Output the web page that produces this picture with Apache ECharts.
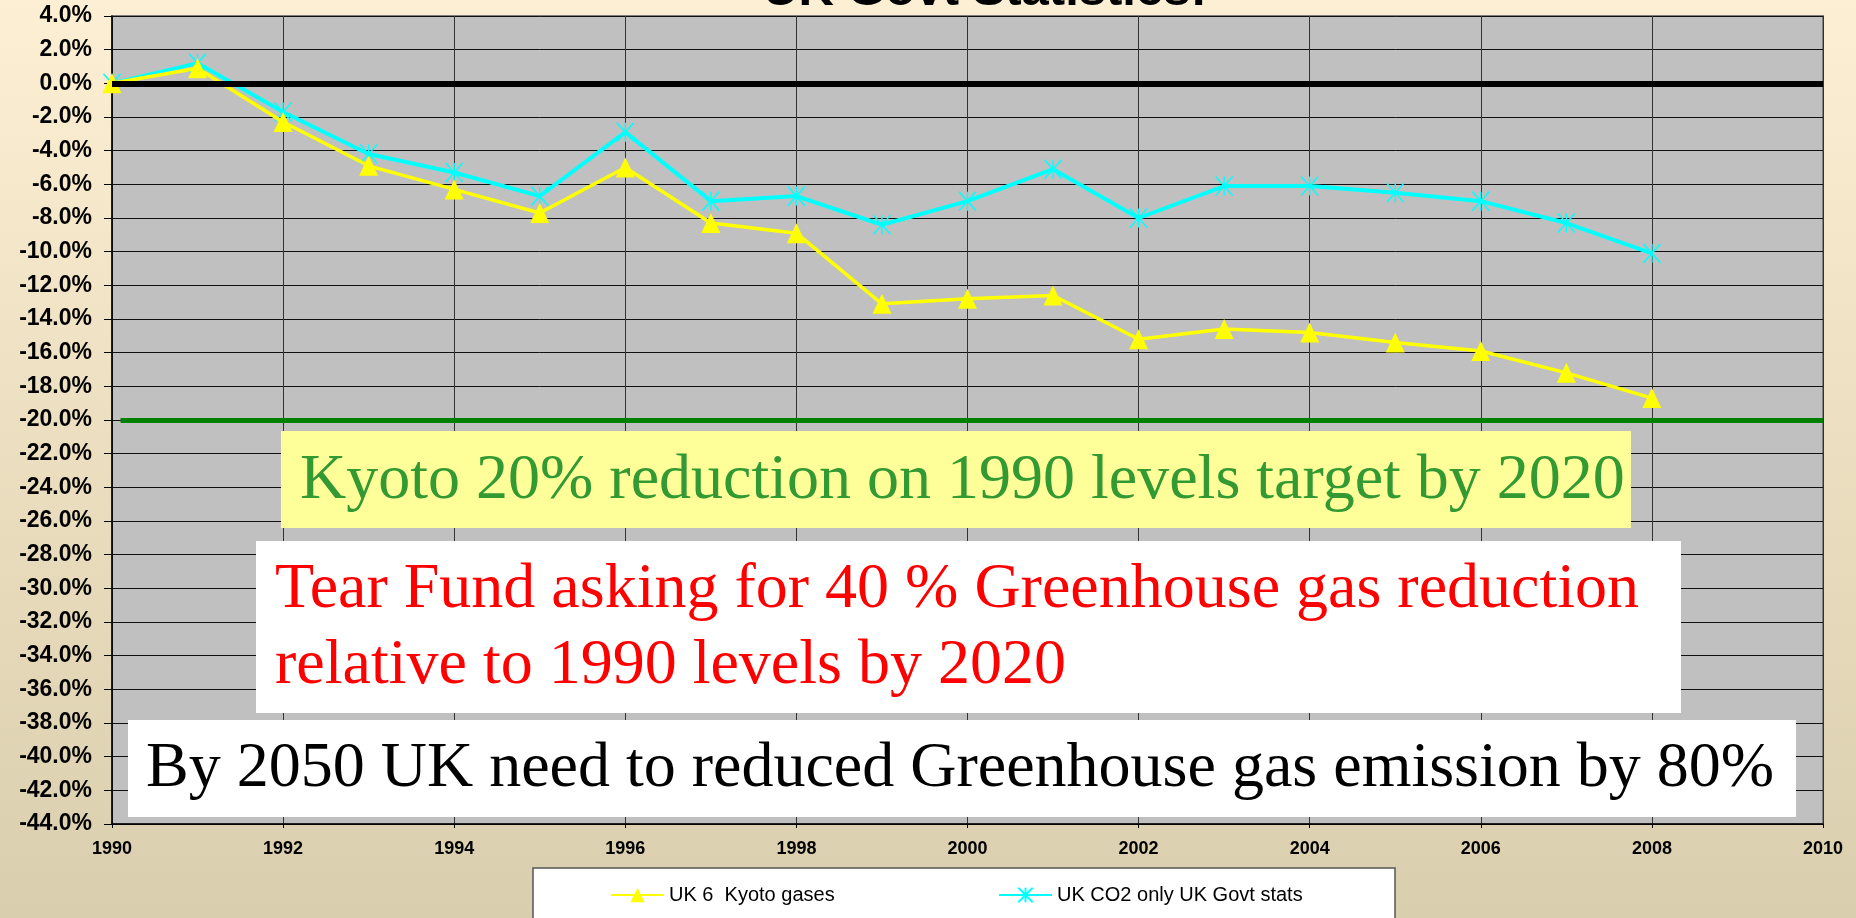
<!DOCTYPE html>
<html>
<head>
<meta charset="utf-8">
<script src="https://cdn.jsdelivr.net/npm/echarts@6/dist/echarts.min.js"></script>
<style>
html, body { margin: 0; padding: 0; }
#chart { width: 1856px; height: 918px; }
</style>
</head>
<body>
<div id="chart"></div>
<script>
// data (% change on 1990 levels)
var years = [1990, 1991, 1992, 1993, 1994, 1995, 1996, 1997, 1998, 1999,
             2000, 2001, 2002, 2003, 2004, 2005, 2006, 2007, 2008];
var kyotoGases = [0, 0.9, -2.3, -4.9, -6.3, -7.7, -5.0, -8.3, -8.9, -13.1,
                  -12.8, -12.6, -15.2, -14.6, -14.8, -15.4, -15.9, -17.2, -18.7];
var co2Only = [0, 1.2, -1.7, -4.2, -5.3, -6.7, -2.9, -7.0, -6.7, -8.4,
               -7.0, -5.1, -8.0, -6.1, -6.1, -6.5, -7.0, -8.3, -10.1];
var seriesNames = ['UK 6  Kyoto gases', 'UK CO2 only UK Govt stats'];
var baseLevel = 0;
var kyotoTarget = -20;
var yMin = -44, yMax = 4, yStep = 2;
var xMin = 1990, xMax = 2010, xStep = 2;

var titleText = 'UK Govt Statistics:';
var noteKyoto = 'Kyoto 20% reduction on 1990 levels target by 2020';
var noteTear = ['Tear Fund asking for 40 % Greenhouse gas reduction', 'relative to 1990 levels by 2020'];
var note2050 = 'By 2050 UK need to reduced Greenhouse gas emission by 80%';

function pairs(xs, ys){
    return xs.map(function(x, i){ return [x, ys[i]] })
}

var sans = "'Liberation Sans', Arial, sans-serif";
var serif = "'Liberation Serif', 'Times New Roman', serif";
var starPath = 'path://M0,0L10,12M10,0L0,12M5,0L5,12';

var chart = echarts.init(document.getElementById('chart'));
var option = {
    animation: false,
    backgroundColor: new echarts.graphic.LinearGradient(0, 0, 0, 1, [
        {offset: 0, color: '#FDEFD3'},
        {offset: 1, color: '#D9CEAD'}
    ]),
    grid: {
        left: 112,
        right: 33,
        top: 16,
        bottom: 94,
        show: true,
        backgroundColor: '#C0C0C0',
        borderColor: '#808080',
        borderWidth: 2
    },
    xAxis: {
        type: 'value',
        min: xMin,
        max: xMax,
        interval: xStep,
        axisLine: { show: true, onZero: false, lineStyle: { color: '#000', width: 1.5 } },
        axisTick: { show: true, length: 4, lineStyle: { color: '#000' } },
        axisLabel: {
            color: '#000',
            fontFamily: sans,
            fontWeight: 'bold',
            fontSize: 18,
            margin: 16,
            formatter: function(v){ return String(v) }
        },
        splitLine: { show: true, lineStyle: { color: '#333', width: 1 } }
    },
    yAxis: {
        type: 'value',
        min: yMin,
        max: yMax,
        interval: yStep,
        axisLine: { show: true, lineStyle: { color: '#000', width: 1.5 } },
        axisTick: { show: true, length: 8, lineStyle: { color: '#000' } },
        axisLabel: {
            color: '#000',
            fontFamily: sans,
            fontWeight: 'bold',
            fontSize: 23,
            margin: 20,
            formatter: function(v){ return v.toFixed(1) + '%' }
        },
        splitLine: { show: true, lineStyle: { color: '#111', width: 1 } }
    },
    legend: [
        {
            data: [seriesNames[0]],
            left: 610,
            top: 885,
            padding: 0,
            itemWidth: 53,
            itemHeight: 18,
            textStyle: { color: '#000', fontFamily: sans, fontSize: 20 }
        },
        {
            data: [seriesNames[1]],
            left: 998,
            top: 885,
            padding: 0,
            itemWidth: 53,
            itemHeight: 18,
            textStyle: { color: '#000', fontFamily: sans, fontSize: 20 }
        }
    ],
    series: [
        {
            // reference levels
            type: 'line',
            data: [],
            z: 1,
            silent: true,
            markLine: {
                silent: true,
                symbol: 'none',
                label: { show: false },
                data: [
                    [
                        { coord: [xMin, baseLevel], lineStyle: { color: '#000', width: 6, type: 'solid' } },
                        { coord: [xMax, baseLevel] }
                    ],
                    [
                        { coord: [xMin + 0.1, kyotoTarget], lineStyle: { color: '#008000', width: 5, type: 'solid' } },
                        { coord: [xMax, kyotoTarget] }
                    ]
                ]
            }
        },
        {
            name: seriesNames[1],
            type: 'line',
            z: 3,
            data: pairs(years, co2Only),
            symbol: starPath,
            symbolSize: [17, 19],
            lineStyle: { color: '#00FFFF', width: 4 },
            itemStyle: { color: '#00FFFF', borderColor: '#00FFFF', borderWidth: 1.5 }
        },
        {
            name: seriesNames[0],
            type: 'line',
            z: 4,
            data: pairs(years, kyotoGases),
            symbol: 'triangle',
            symbolSize: [19, 20],
            lineStyle: { color: '#FFFF00', width: 3.5 },
            itemStyle: { color: '#FFFF00' }
        }
    ],
    graphic: [
        {
            type: 'text', left: 763, top: -33, z: 10,
            style: { text: titleText, font: 'bold 49px ' + sans, fill: '#000' }
        },
        // legend frame
        {
            type: 'rect', z: 1,
            shape: { x: 533, y: 868, width: 862, height: 60 },
            style: { fill: '#fff', stroke: '#555', lineWidth: 1.5 }
        },
        // note boxes
        {
            type: 'rect', z: 50,
            shape: { x: 281, y: 431, width: 1350, height: 97 },
            style: { fill: '#FFFF99' }
        },
        {
            type: 'text', z: 51, x: 300, y: 481,
            style: { text: noteKyoto, font: '64px ' + serif, fill: '#339933', verticalAlign: 'middle' }
        },
        {
            type: 'rect', z: 50,
            shape: { x: 256, y: 541, width: 1425, height: 172 },
            style: { fill: '#fff' }
        },
        {
            type: 'text', z: 51, x: 275, y: 590,
            style: { text: noteTear[0], font: '64px ' + serif, fill: '#FF0000', verticalAlign: 'middle' }
        },
        {
            type: 'text', z: 51, x: 275, y: 666,
            style: { text: noteTear[1], font: '64px ' + serif, fill: '#FF0000', verticalAlign: 'middle' }
        },
        {
            type: 'rect', z: 50,
            shape: { x: 128, y: 720, width: 1668, height: 97 },
            style: { fill: '#fff' }
        },
        {
            type: 'text', z: 51, x: 146, y: 769,
            style: { text: note2050, font: '64px ' + serif, fill: '#000', verticalAlign: 'middle' }
        }
    ]
};
chart.setOption(option);
</script>
</body>
</html>
